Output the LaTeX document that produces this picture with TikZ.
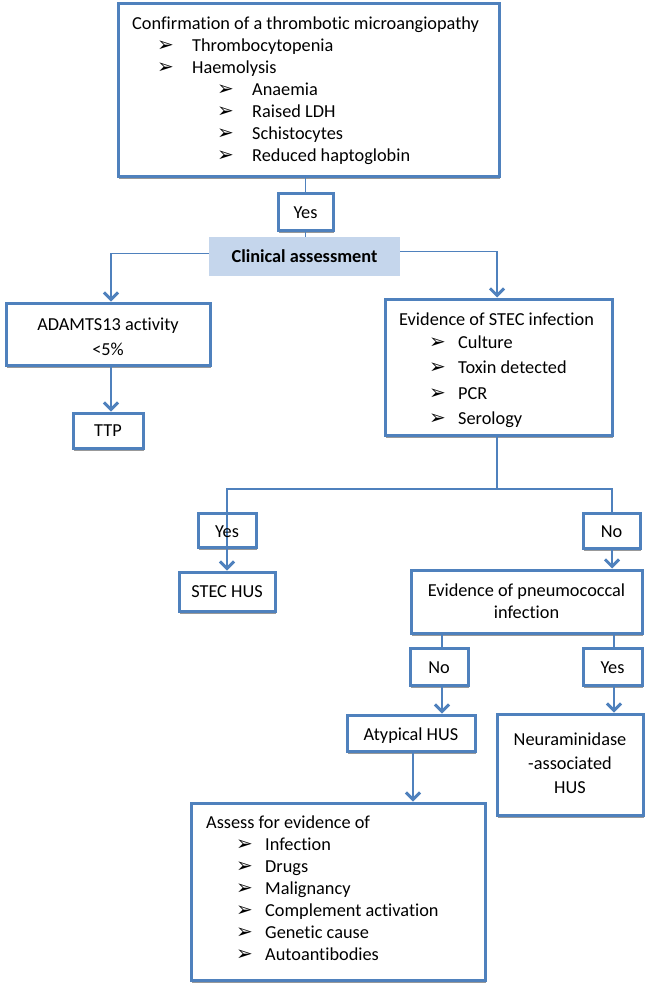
\documentclass[tikz,border=0pt]{standalone}
\usepackage{fontspec}
\setmainfont{Carlito}[Ligatures=NoCommon]
\newfontfamily\bulletfont{DejaVu Sans}
\usetikzlibrary{arrows.meta,shadows}
\definecolor{bblue}{RGB}{79,129,189}
\definecolor{lblue}{RGB}{197,214,236}
\newcommand\txtl[4]{\node[txt, anchor=base west] (#1) at (#2,#3) {#4};}
\newcommand\txtc[4]{\node[txt, anchor=base] (#1) at (#2,#3) {#4};}
\newcommand\bull[3]{\node[txt, anchor=base west] (#1) at (#2-1,#3) {\bulletfont\fontsize{20pt}{22pt}\selectfont ➢};}
\begin{document}
\begin{tikzpicture}[x=1pt,y=-1pt,
  box/.style={draw=bblue, line width=3pt, fill=white, inner sep=0pt,
    drop shadow={shadow xshift=1.2pt, shadow yshift=-3pt, opacity=0.4, fill=black}},
  txt/.style={inner sep=0pt, font=\fontsize{18.3pt}{21pt}\selectfont},
  conn/.style={draw=bblue, line width=1.4pt},
  arr/.style={conn, -{Straight Barb[length=7pt, width=14pt, line width=3pt]}}]
\useasboundingbox (0,0) rectangle (648,993);

% boxes
\node[box, minimum width=381pt, minimum height=173pt] (top) at (308.5,89.5) {};
\node[box, minimum width=55pt, minimum height=37pt] (yes1) at (305.5,211.5) {};
\node[fill=lblue, inner sep=0pt, minimum width=191pt, minimum height=39pt] (clin) at (304.5,256.5) {};
\node[box, minimum width=204pt, minimum height=62pt] (adam) at (108,334) {};
\node[box, minimum width=70pt, minimum height=35pt] (ttp) at (108,430.5) {};
\node[box, minimum width=227pt, minimum height=136pt] (stec) at (498.5,367) {};
\node[box, minimum width=58pt, minimum height=34pt] (yes2) at (227,530) {};
\node[box, minimum width=96pt, minimum height=39pt] (stechus) at (227,591.5) {};
\node[box, minimum width=57pt, minimum height=35pt] (no1) at (611.5,530.5) {};
\node[box, minimum width=231pt, minimum height=63pt] (pneu) at (526.5,601.5) {};
\node[box, minimum width=58pt, minimum height=37pt] (no2) at (439,666.5) {};
\node[box, minimum width=59pt, minimum height=37pt] (yes3) at (612.5,666.5) {};
\node[box, minimum width=128pt, minimum height=36pt] (atyp) at (411,733) {};
\node[box, minimum width=146pt, minimum height=101pt] (neur) at (570,764.5) {};
\node[box, minimum width=294pt, minimum height=177pt] (assess) at (338,891.5) {};

% connectors
\draw[conn] (yes1.north) -- (yes1.north |- top.south);
\draw[conn] (yes1.south) -- (yes1.south |- clin.north);
\draw[arr] ([yshift=3pt]clin.west) -| ([xshift=3pt]adam.north);
\draw[arr] ([xshift=3pt]adam.south) -- ([xshift=3pt]ttp.north);
\draw[arr] ([yshift=5pt]clin.east) -| ([xshift=-1.5pt]stec.north);
\coordinate (j) at (497,489);
\draw[conn] (j |- stec.south) -- (j);
\draw[arr] (j) -| (stechus.north);
\draw[conn] (j) -| ([xshift=0.5pt]no1.north);
\draw[arr] ([xshift=0.5pt]no1.south) -- ([xshift=0.5pt]no1.south |- pneu.north);
\draw[conn] ([xshift=3pt]no2.north) -- ([xshift=3pt]no2.north |- pneu.south);
\draw[arr] ([xshift=3pt]no2.south) -- ([xshift=3pt]no2.south |- atyp.north);
\draw[conn] ([xshift=1.5pt]yes3.north) -- ([xshift=1.5pt]yes3.north |- pneu.south);
\draw[arr] ([xshift=1.5pt]yes3.south) -- ([xshift=1.5pt]yes3.south |- neur.north);
\draw[arr] ([xshift=2pt]atyp.south) -- ([xshift=2pt]atyp.south |- assess.north);

% top box text
\txtl{t0}{132}{29}{Confirmation of a thrombotic microangiopathy}
\bull{b1}{158}{51}\txtl{t1}{192}{51}{Thrombocytopenia}
\bull{b2}{158}{73}\txtl{t2}{192}{73}{Haemolysis}
\bull{b3}{218}{95}\txtl{t3}{252}{95}{Anaemia}
\bull{b4}{218}{117}\txtl{t4}{252}{117}{Raised LDH}
\bull{b5}{218}{139}\txtl{t5}{252}{139}{Schistocytes}
\bull{b6}{218}{161}\txtl{t6}{252}{161}{Reduced haptoglobin}

\txtc{tyes1}{305.5}{218}{Yes}
\txtc{tclin}{304.5}{262}{\bfseries Clinical assessment}

\txtc{ta1}{108}{330}{ADAMTS13 activity}
\txtc{ta2}{108}{355}{<5\%}
\txtc{tttp}{108}{436}{TTP}

\txtl{ts0}{399}{325}{Evidence of STEC infection}
\bull{c1}{430}{348}\txtl{ts1}{458}{348}{Culture}
\bull{c2}{430}{373}\txtl{ts2}{458}{373}{Toxin detected}
\bull{c3}{430}{399}\txtl{ts3}{458}{399}{PCR}
\bull{c4}{430}{424}\txtl{ts4}{458}{424}{Serology}

\txtc{tyes2}{227}{537}{Yes}
\txtc{tno1}{611.5}{537}{No}
\txtc{tstechus}{227}{597}{STEC HUS}

\txtc{tp1}{526.5}{596}{Evidence of pneumococcal}
\txtc{tp2}{526.5}{618}{infection}

\txtc{tno2}{439}{673}{No}
\txtc{tyes3}{612.5}{673}{Yes}
\txtc{tatyp}{411}{740}{Atypical HUS}

\txtc{tn1}{570}{745}{Neuraminidase}
\txtc{tn2}{570}{769}{-associated}
\txtc{tn3}{570}{793}{HUS}

\txtl{tas0}{206}{828}{Assess for evidence of}
\bull{d1}{237}{850}\txtl{tas1}{265}{850}{Infection}
\bull{d2}{237}{872}\txtl{tas2}{265}{872}{Drugs}
\bull{d3}{237}{894}\txtl{tas3}{265}{894}{Malignancy}
\bull{d4}{237}{916}\txtl{tas4}{265}{916}{Complement activation}
\bull{d5}{237}{938}\txtl{tas5}{265}{938}{Genetic cause}
\bull{d6}{237}{960}\txtl{tas6}{265}{960}{Autoantibodies}
\end{tikzpicture}
\end{document}
